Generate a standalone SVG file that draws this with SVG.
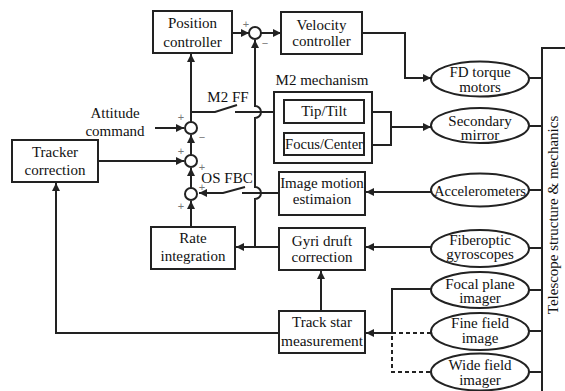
<svg xmlns="http://www.w3.org/2000/svg" width="565" height="391" viewBox="0 0 565 391">
  <style>
    .box { fill: #fff; stroke: #222; stroke-width: 2; }
    .ell { fill: #fff; stroke: #222; stroke-width: 2; }
    .sum { fill: #fff; stroke: #222; stroke-width: 2; }
    .wire { fill: none; stroke: #222; stroke-width: 2; }
    .dash { fill: none; stroke: #222; stroke-width: 2; stroke-dasharray: 4 3; }
    text { font-family: "Liberation Serif", "Times New Roman", serif; font-size: 15px; fill: #111; text-anchor: middle; }
    .sign { font-family: "Liberation Sans", Arial, sans-serif; font-size: 11px; fill: #777; }
  </style>
  <defs>
    <marker id="arr" viewBox="0 0 10 10" refX="10" refY="5" markerWidth="4.5" markerHeight="4" orient="auto" markerUnits="strokeWidth">
      <path d="M0,0 L10,5 L0,10 z" fill="#222"/>
    </marker>
  </defs>

  <rect width="565" height="391" fill="#fff"/>

  <!-- connectors -->
  <g id="connectors">
    <!-- position controller to velocity summing junction -->
    <path class="wire" d="M232,33 H249" marker-end="url(#arr)"/>
    <path class="wire" d="M261,33 H281" marker-end="url(#arr)"/>
    <!-- velocity controller to FD torque motors -->
    <path class="wire" d="M362,33 H405 V78 H431" marker-end="url(#arr)"/>
    <!-- attitude junction up to position controller -->
    <path class="wire" d="M191,122 V54" marker-end="url(#arr)"/>
    <!-- M2 FF switch -->
    <path class="wire" d="M191,112 H215 L237,105"/>
    <path class="wire" d="M235,112 H283" marker-end="url(#arr)"/>
    <!-- attitude command input -->
    <path class="wire" d="M155,128 H184" marker-end="url(#arr)"/>
    <!-- junction chain -->
    <path class="wire" d="M191,155 V135" marker-end="url(#arr)"/>
    <path class="wire" d="M98,161 H184" marker-end="url(#arr)"/>
    <path class="wire" d="M191,188 V168" marker-end="url(#arr)"/>
    <path class="wire" d="M191,227 V201" marker-end="url(#arr)"/>
    <!-- OS FBC switch -->
    <path class="wire" d="M279,193 H242"/>
    <path class="wire" d="M245,187 L223,193 H199" marker-end="url(#arr)"/>
    <!-- gyro drift correction to rate integration, and rate feedback to velocity junction -->
    <path class="wire" d="M279,247 H236" marker-end="url(#arr)"/>
    <path class="wire" d="M255,247 V199 A6,6 0 0 0 255,187 V118 A6,6 0 0 0 255,106 V40" marker-end="url(#arr)"/>
    <!-- M2 mechanism to secondary mirror -->
    <path class="wire" d="M364,112 H391 V145 H364"/>
    <path class="wire" d="M391,127 H431" marker-end="url(#arr)"/>
    <!-- sensors to estimators -->
    <path class="wire" d="M431,192 H366" marker-end="url(#arr)"/>
    <path class="wire" d="M431,247 H366" marker-end="url(#arr)"/>
    <path class="wire" d="M321,311 V271" marker-end="url(#arr)"/>
    <path class="wire" d="M431,289 H392 V333 H366" marker-end="url(#arr)"/>
    <path class="dash" d="M431,333 H392 V372 H431"/>
    <!-- track star measurement back to tracker correction -->
    <path class="wire" d="M279,333 H56 V183" marker-end="url(#arr)"/>
    <!-- ellipses to telescope structure -->
    <path class="wire" d="M529,78 H542 M529,126 H542 M529,190 H542 M529,248 H542 M529,290 H542 M529,331 H542 M529,372 H542"/>
  </g>

  <!-- summing junctions -->
  <g id="sum-velocity">
    <circle class="sum" cx="255" cy="33" r="6"/>
    <text class="sign" x="246" y="28">+</text>
    <text class="sign" x="265" y="47">−</text>
  </g>
  <g id="sum-attitude">
    <circle class="sum" cx="191" cy="128" r="6"/>
    <text class="sign" x="181" y="121">+</text>
    <text class="sign" x="202" y="141">−</text>
  </g>
  <g id="sum-tracker">
    <circle class="sum" cx="191" cy="161" r="6"/>
    <text class="sign" x="181" y="155">+</text>
    <text class="sign" x="202" y="171">+</text>
  </g>
  <g id="sum-rate">
    <circle class="sum" cx="191" cy="194" r="6"/>
    <text class="sign" x="202" y="191">+</text>
    <text class="sign" x="181" y="210">+</text>
  </g>

  <!-- controller blocks -->
  <g id="position-controller">
    <rect class="box" x="153" y="11" width="79" height="42"/>
    <text x="192.5" y="28">Position</text>
    <text x="192.5" y="47">controller</text>
  </g>
  <g id="velocity-controller">
    <rect class="box" x="281" y="12" width="81" height="42"/>
    <text x="321.5" y="30">Velocity</text>
    <text x="321.5" y="46">controller</text>
  </g>
  <g id="attitude-command">
    <text x="115" y="118">Attitude</text>
    <text x="115" y="136">command</text>
  </g>
  <g id="m2ff-label">
    <text x="228" y="102">M2 FF</text>
  </g>
  <g id="osfbc-label">
    <text x="227" y="183">OS FBC</text>
  </g>
  <g id="tracker-correction">
    <rect class="box" x="12" y="140" width="86" height="42"/>
    <text x="55" y="157">Tracker</text>
    <text x="55" y="175">correction</text>
  </g>
  <g id="rate-integration">
    <rect class="box" x="151" y="227" width="84" height="42"/>
    <text x="193" y="243">Rate</text>
    <text x="193" y="261">integration</text>
  </g>

  <!-- M2 mechanism -->
  <g id="m2-mechanism">
    <text x="322" y="85">M2 mechanism</text>
    <rect class="box" x="274" y="92" width="98" height="71"/>
  </g>
  <g id="tip-tilt">
    <rect class="box" x="284" y="100" width="80" height="23"/>
    <text x="324" y="116">Tip/Tilt</text>
  </g>
  <g id="focus-center">
    <rect class="box" x="284" y="133" width="80" height="22"/>
    <text x="324" y="149" textLength="78" lengthAdjust="spacingAndGlyphs">Focus/Center</text>
  </g>

  <!-- estimators -->
  <g id="image-motion">
    <rect class="box" x="279" y="172" width="86" height="43"/>
    <text x="322" y="188">Image motion</text>
    <text x="322" y="204">estimaion</text>
  </g>
  <g id="gyro-drift">
    <rect class="box" x="279" y="228" width="86" height="42"/>
    <text x="322" y="246">Gyri druft</text>
    <text x="322" y="262">correction</text>
  </g>
  <g id="track-star">
    <rect class="box" x="279" y="311" width="86" height="42"/>
    <text x="322" y="327">Track star</text>
    <text x="322" y="346" textLength="82" lengthAdjust="spacingAndGlyphs">measurement</text>
  </g>

  <!-- actuators and sensors -->
  <g id="fd-torque-motors">
    <ellipse class="ell" cx="480" cy="79" rx="49" ry="17.5"/>
    <text x="480" y="77">FD torque</text>
    <text x="480" y="92">motors</text>
  </g>
  <g id="secondary-mirror">
    <ellipse class="ell" cx="480" cy="125.5" rx="49" ry="17.5"/>
    <text x="480" y="126">Secondary</text>
    <text x="480" y="140">mirror</text>
  </g>
  <g id="accelerometers">
    <ellipse class="ell" cx="480" cy="190" rx="49" ry="16.5"/>
    <text x="480" y="196" textLength="92" lengthAdjust="spacingAndGlyphs">Accelerometers</text>
  </g>
  <g id="fiberoptic-gyroscopes">
    <ellipse class="ell" cx="480" cy="248.5" rx="49" ry="18.5"/>
    <text x="480" y="245">Fiberoptic</text>
    <text x="480" y="259">gyroscopes</text>
  </g>
  <g id="focal-plane-imager">
    <ellipse class="ell" cx="480" cy="290" rx="49" ry="18"/>
    <text x="480" y="289">Focal plane</text>
    <text x="480" y="303">imager</text>
  </g>
  <g id="fine-field-image">
    <ellipse class="ell" cx="480" cy="331.5" rx="49" ry="18.5"/>
    <text x="480" y="328">Fine field</text>
    <text x="480" y="343">image</text>
  </g>
  <g id="wide-field-imager">
    <ellipse class="ell" cx="480" cy="372" rx="49" ry="18.5"/>
    <text x="480" y="370">Wide field</text>
    <text x="480" y="385">imager</text>
  </g>

  <!-- telescope structure -->
  <g id="telescope-structure">
    <path class="wire" d="M566,48 H542 V392"/>
    <text x="0" y="0" transform="translate(558,215) rotate(-90)">Telescope structure &amp; mechanics</text>
  </g>
</svg>
